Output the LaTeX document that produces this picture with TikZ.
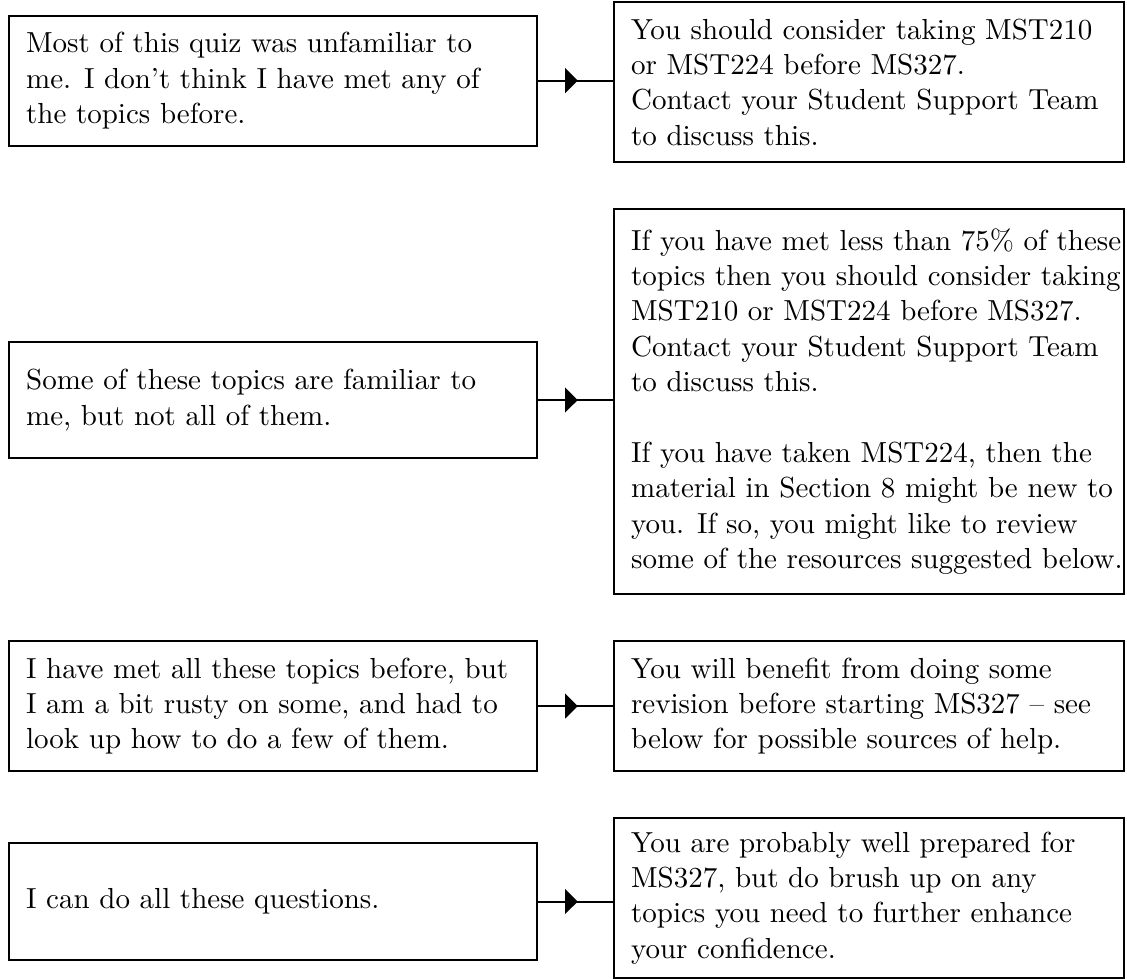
\documentclass[tikz,border=0pt]{standalone}
\usepackage{tikz}
\usetikzlibrary{arrows.meta, decorations.markings}
\tikzset{
	answer/.style  ={rectangle, draw=black, line width=0.7pt, inner xsep=0pt, inner ysep=0pt, text width=6.399cm, align=flush left, execute at begin node={\leftskip=5.9pt\relax}},
	advice/.style  ={answer, text width=6.181cm},
	midarrow/.style={line width=0.7pt, decoration={markings, mark=at position 0.53 with {\arrow{Triangle[length=4.4pt, width=8.6pt]}}}, postaction={decorate}},
}
\begin{document}
\begin{tikzpicture}[font=\fontsize{10}{12.2}\selectfont]
	\useasboundingbox (0,0) rectangle (13.659,-11.865);
	% what the student says
	\node[answer, minimum height=1.576cm] (q1) at (3.309,-0.978) {Most of this quiz was unfamiliar to\\ me. I don't think I have met any of\\ the topics before.};
	\node[answer, minimum height=1.406cm] (q2) at (3.309,-4.848) {Some of these topics are familiar to\\ me, but not all of them.};
	\node[answer, minimum height=1.576cm] (q3) at (3.309,-8.557) {I have met all these topics before, but\\ I am a bit rusty on some, and had to\\ look up how to do a few of them.};
	\node[answer, minimum height=1.418cm] (q4) at (3.309,-10.926) {I can do all these questions.};
	% advice
	\node[advice, minimum height=1.939cm] (r1) at (10.532,-0.994) {You should consider taking MST210\\ or MST224 before MS327.\\ Contact your Student Support Team\\ to discuss this.};
	\node[advice, minimum height=4.666cm] (r2) at (10.532,-4.866) {If you have met less than 75\% of these\\ topics then you should consider taking\\ MST210 or MST224 before MS327.\\ Contact your Student Support Team\\ to discuss this.\\[12.2pt] If you have taken MST224, then the\\ material in Section 8 might be new to\\ you. If so, you might like to review\\ some of the resources suggested below.};
	\node[advice, minimum height=1.576cm] (r3) at (10.532,-8.557) {You will benefit from doing some\\ revision before starting MS327 -- see\\ below for possible sources of help.};
	\node[advice, minimum height=1.939cm] (r4) at (10.532,-10.884) {You are probably well prepared for\\ MS327, but do brush up on any\\ topics you need to further enhance\\ your confidence.};
	\foreach \i in {1,...,4}
		\draw[midarrow] (q\i.east) -- (q\i.east -| r\i.west);
\end{tikzpicture}
\end{document}
